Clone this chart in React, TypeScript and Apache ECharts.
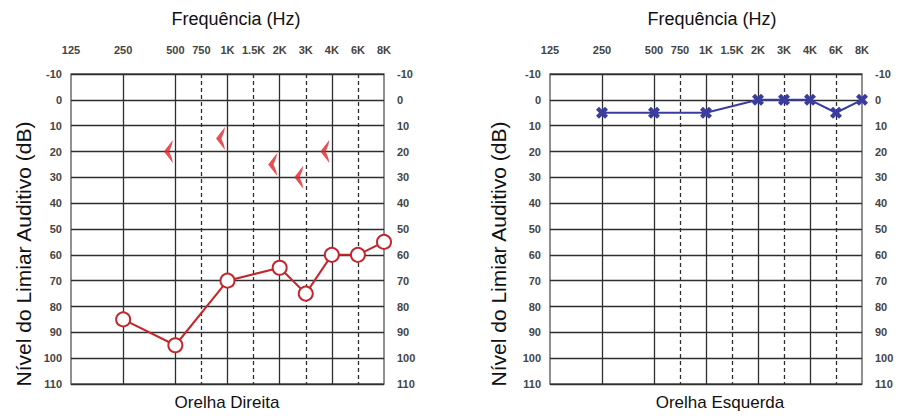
import React, { useEffect, useRef } from "react";
import * as echarts from "echarts";

// Frequency axis: positions in half-octave steps from 125 Hz
const FREQ_LABELS = ["125", "250", "500", "750", "1K", "1.5K", "2K", "3K", "4K", "6K", "8K"];
const FREQ_POS = [0, 2, 4, 5, 6, 7, 8, 9, 10, 11, 12];
const SOLID_FREQS = ["250", "500", "1K", "2K", "4K"];
const DASHED_FREQS = ["750", "1.5K", "3K", "6K"];

// Right ear (Orelha Direita) – air conduction thresholds (dB)
const RIGHT_FREQS = ["250", "500", "1K", "2K", "3K", "4K", "6K", "8K"];
const RIGHT_VALUES = [85, 95, 70, 65, 75, 60, 60, 55];

// Right ear – bone conduction (<) thresholds (dB)
const RIGHT_BONE_FREQS = ["500", "1K", "2K", "3K", "4K"];
const RIGHT_BONE_VALUES = [20, 15, 25, 30, 20];

// Left ear (Orelha Esquerda) – air conduction thresholds (dB)
const LEFT_FREQS = ["250", "500", "1K", "2K", "3K", "4K", "6K", "8K"];
const LEFT_VALUES = [5, 5, 5, 0, 0, 0, 5, 0];

const DB_MIN = -10;
const DB_MAX = 110;
const DB_STEP = 10;

const FONT = 'Arial, "Liberation Sans", sans-serif';
const RED = "#c3262c";
const BLUE = "#3a3d9e";
const GRID = "#2e2e2e";

const pos = (f: string) => FREQ_POS[FREQ_LABELS.indexOf(f)];

export default function App() {
  const ref = useRef<HTMLDivElement>(null);

  useEffect(() => {
    if (!ref.current) return;
    const chart = echarts.init(ref.current, undefined, { renderer: "svg" });

    const labelMap: Record<number, string> = {};
    FREQ_LABELS.forEach((l, i) => (labelMap[FREQ_POS[i]] = l));

    const grids = [
      { left: 71, top: 74, width: 313, height: 310 },
      { left: 550, top: 74, width: 312, height: 310 },
    ];

    const xAxes = grids.map((_, gi) => ({
      type: "value" as const,
      gridIndex: gi,
      position: "top" as const,
      min: 0,
      max: 12,
      interval: 1,
      axisLine: { show: false },
      axisTick: { show: false },
      splitLine: { show: false },
      axisLabel: {
        margin: 19,
        fontSize: 11,
        fontWeight: "bold" as const,
        color: "#444",
        fontFamily: FONT,
        formatter: (v: number) => labelMap[v] ?? "",
      },
    }));

    const yAxes: any[] = [];
    grids.forEach((_, gi) => {
      yAxes.push({
        type: "value",
        gridIndex: gi,
        inverse: true,
        min: DB_MIN,
        max: DB_MAX,
        interval: DB_STEP,
        position: "left",
        axisLine: { show: false },
        axisTick: { show: false },
        splitLine: { show: true, lineStyle: { color: GRID, width: 1.3 } },
        axisLabel: { margin: 9, fontSize: 11, fontWeight: "bold", color: "#444", fontFamily: FONT },
      });
      yAxes.push({
        type: "value",
        gridIndex: gi,
        inverse: true,
        min: DB_MIN,
        max: DB_MAX,
        interval: DB_STEP,
        position: "right",
        axisLine: { show: false },
        axisTick: { show: false },
        splitLine: { show: false },
        axisLabel: { margin: 13, fontSize: 11, fontWeight: "bold", color: "#444", fontFamily: FONT },
      });
    });

    const verticalLines = (gi: number) => ({
      type: "scatter",
      xAxisIndex: gi,
      yAxisIndex: gi * 2,
      data: [],
      silent: true,
      z: 1,
      markLine: {
        silent: true,
        symbol: ["none", "none"],
        label: { show: false },
        animation: false,
        data: [
          ...SOLID_FREQS.map((f) => ({ xAxis: pos(f), lineStyle: { type: "solid", color: GRID, width: 1.3 } })),
          ...DASHED_FREQS.map((f) => ({ xAxis: pos(f), lineStyle: { type: [4, 3], color: GRID, width: 1.3 } })),
        ],
      },
    });

    const xPath =
      "path://M0,2.5 L2.5,0 L5,2.5 L7.5,0 L10,2.5 L7.5,5 L10,7.5 L7.5,10 L5,7.5 L2.5,10 L0,7.5 L2.5,5 Z";
    const chevron = "path://M10,0 L0,12 L10,24 L9,19 L6,12 L9,5 Z";

    const titleStyle = { fontSize: 18, fontFamily: FONT, fill: "#111", align: "center", verticalAlign: "middle" };

    chart.setOption({
      animation: false,
      backgroundColor: "#ffffff",
      grid: grids.map((g) => ({ ...g, show: true, borderColor: "#555", borderWidth: 1.3, backgroundColor: "transparent" })),
      xAxis: xAxes,
      yAxis: yAxes,
      graphic: [
        { type: "text", x: 236, y: 19, style: { ...titleStyle, text: "Frequência (Hz)" } },
        { type: "text", x: 712, y: 19, style: { ...titleStyle, text: "Frequência (Hz)" } },
        { type: "text", x: 23, y: 254, rotation: Math.PI / 2, style: { ...titleStyle, fontSize: 21, text: "Nível do Limiar Auditivo (dB)" } },
        { type: "text", x: 498, y: 254, rotation: Math.PI / 2, style: { ...titleStyle, fontSize: 21, text: "Nível do Limiar Auditivo (dB)" } },
        { type: "text", x: 227, y: 402, style: { ...titleStyle, fontSize: 17, text: "Orelha Direita" } },
        { type: "text", x: 720, y: 402, style: { ...titleStyle, fontSize: 17, text: "Orelha Esquerda" } },
      ],
      series: [
        verticalLines(0),
        verticalLines(1),
        {
          type: "line",
          xAxisIndex: 0,
          yAxisIndex: 0,
          z: 5,
          data: RIGHT_FREQS.map((f, i) => [pos(f), RIGHT_VALUES[i]]),
          symbol: "circle",
          symbolSize: 14,
          lineStyle: { color: RED, width: 2 },
          itemStyle: { color: "#fff", borderColor: RED, borderWidth: 2 },
        },
        {
          type: "scatter",
          xAxisIndex: 0,
          yAxisIndex: 0,
          z: 5,
          data: RIGHT_BONE_FREQS.map((f, i) => [pos(f), RIGHT_BONE_VALUES[i]]),
          symbol: chevron,
          symbolSize: [9, 23],
          symbolOffset: [-7, 0],
          itemStyle: { color: "#e0252b" },
        },
        {
          type: "line",
          xAxisIndex: 1,
          yAxisIndex: 2,
          z: 5,
          data: LEFT_FREQS.map((f, i) => [pos(f), LEFT_VALUES[i]]),
          symbol: xPath,
          symbolSize: 12,
          lineStyle: { color: BLUE, width: 2 },
          itemStyle: { color: BLUE },
        },
      ],
    });

    return () => chart.dispose();
  }, []);

  return (
    <div
      ref={ref}
      style={{ position: "fixed", left: 0, top: 0, width: 898, height: 418, background: "#fff" }}
    />
  );
}
